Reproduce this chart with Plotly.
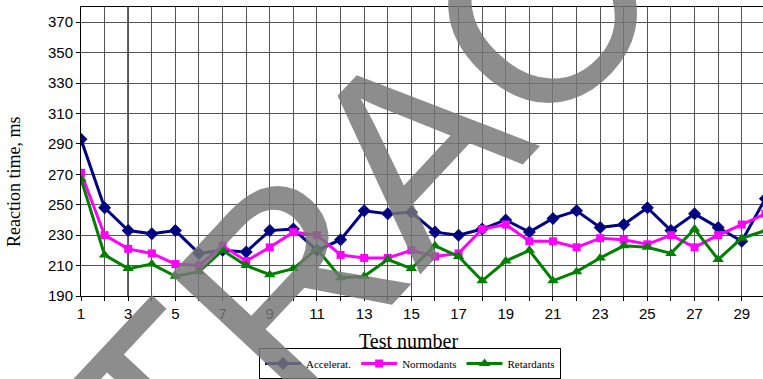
import plotly.graph_objects as go

tests = list(range(1, 31))
accelerat = [293, 248, 233, 231, 233, 218, 220, 219, 233, 234,
             220, 227, 246, 244, 245, 232, 230, 234, 240, 232,
             241, 246, 235, 237, 248, 233, 244, 235, 226, 254]
normodants = [271, 230, 221, 218, 211, 210, 223, 213, 222, 232,
              230, 217, 215, 215, 220, 216, 218, 234, 237, 226,
              226, 222, 228, 227, 224, 230, 222, 230, 237, 244]
retardants = [267, 217, 208, 211, 203, 206, 220, 210, 204, 208,
              221, 202, 203, 214, 208, 223, 216, 200, 213, 220,
              200, 206, 215, 223, 222, 218, 234, 214, 228, 233]
y_ticks = [190, 210, 230, 250, 270, 290, 310, 330, 350, 370]
x_labels = [str(t) if t % 2 == 1 else "" for t in tests]

W, H = 763, 379
L, R, T, B = 81, 0, 7, 83
pw, ph = W - L - R, H - T - B

SERIF = "Liberation Serif, Times New Roman, serif"
SANS = "Liberation Sans, Arial, sans-serif"

fig = go.Figure()
series = [
    ("Accelerat.", accelerat, "#000080", "diamond", 10),
    ("Normodants", normodants, "#ff00ff", "square", 8),
    ("Retardants", retardants, "#008000", "triangle-up", 10),
]
for name, vals, col, sym, ms in series:
    fig.add_trace(go.Scatter(
        x=tests, y=vals, name=name, mode="lines+markers",
        line=dict(color=col, width=3),
        marker=dict(symbol=sym, size=ms, color=col),
    ))

fig.add_shape(type="line", xref="x", yref="paper", x0=3, x1=3, y0=0, y1=1,
              line=dict(color="black", width=1.6), layer="below")

def px_to_paper(px, py):
    return (px - L) / pw, (H - B - py) / ph

# axis titles
ax, ay = px_to_paper(14, 182)
fig.add_annotation(text="Reaction time, ms", xref="paper", yref="paper", x=ax, y=ay,
                   xanchor="center", yanchor="middle", showarrow=False, textangle=-90,
                   font=dict(family=SERIF, size=18, color="black"))
tx, ty = px_to_paper(408, 341)
fig.add_annotation(text="Test number", xref="paper", yref="paper", x=tx, y=ty,
                   xanchor="center", yanchor="middle", showarrow=False,
                   font=dict(family=SERIF, size=20, color="black"))

# watermark
wx, wy = px_to_paper(292, 277)
fig.add_annotation(
    text="EXTRACT", xref="paper", yref="paper", x=wx, y=wy,
    xanchor="center", yanchor="middle", showarrow=False, textangle=-47,
    font=dict(family=SANS, size=265, color="rgba(119,119,119,0.84)"),
)

lx, ly = px_to_paper(410, 348)
fig.update_layout(
    width=W, height=H,
    margin=dict(l=L, r=R, t=T, b=B),
    paper_bgcolor="white", plot_bgcolor="white",
    font=dict(family=SANS, color="black"),
    showlegend=True,
    legend=dict(
        orientation="h", xref="paper", yref="paper",
        x=lx, xanchor="center", y=ly, yanchor="top",
        font=dict(family=SERIF, size=11, color="black"),
        bordercolor="black", borderwidth=1, bgcolor="rgba(255,255,255,0)",
        itemwidth=36, tracegroupgap=0,
    ),
    xaxis=dict(
        range=[1, 29.9], tickmode="array", tickvals=tests, ticktext=x_labels,
        showgrid=True, gridcolor="#555555", gridwidth=1,
        showline=True, linecolor="black", linewidth=1, mirror=True,
        ticks="outside", ticklen=4, tickcolor="black",
        tickfont=dict(size=15, family=SANS),
        zeroline=False,
    ),
    yaxis=dict(
        range=[190, 380], tickmode="array", tickvals=y_ticks,
        showgrid=True, gridcolor="#555555", gridwidth=1,
        showline=True, linecolor="black", linewidth=1,
        ticks="outside", ticklen=4, tickcolor="black",
        tickfont=dict(size=15, family=SANS),
        zeroline=False,
    ),
)

fig.write_html("out.html")
